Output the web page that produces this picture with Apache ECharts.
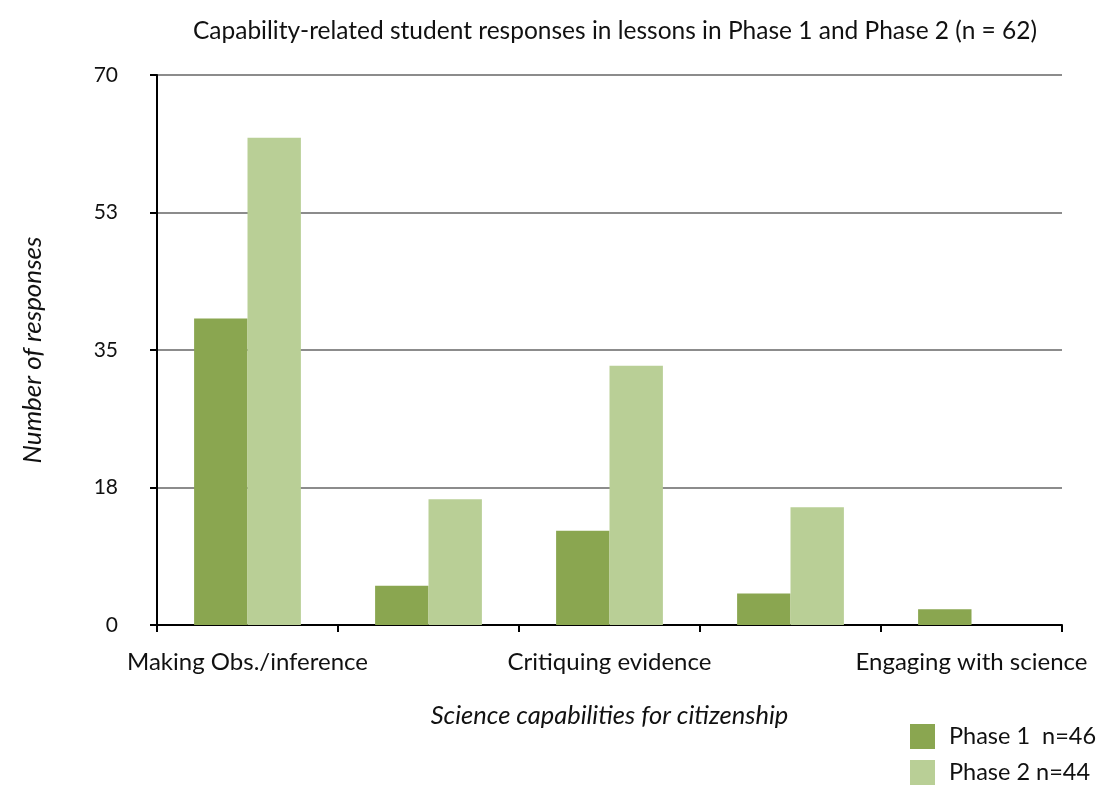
<!DOCTYPE html>
<html>
<head>
<meta charset="utf-8">
<script src="https://cdn.jsdelivr.net/npm/echarts@6/dist/echarts.min.js"></script>
<style>html,body{margin:0;padding:0;background:#fff}#c{width:1100px;height:785px}</style>
</head>
<body>
<div id="c"></div>
<script>
const categories = ["Making Obs./inference", "Using evidence", "Critiquing evidence", "Interpreting representations", "Engaging with science"];
const phase1 = [39, 5, 12, 4, 2];
const phase2 = [62, 16, 33, 15, 0];
const seriesNames = ["Phase 1  n=46", "Phase 2 n=44"];
const yTicks = [0, 17.5, 35, 52.5, 70];

const FONT = 'Lato, "Open Sans", sans-serif';
const legendText = { fontFamily: FONT, fontSize: 23.5, color: '#111', padding: [0, 0, 0, 9] };
const chart = echarts.init(document.getElementById('c'));
chart.setOption({
  animation: false,
  backgroundColor: '#fff',
  title: {
    text: 'Capability-related student responses in lessons in Phase 1 and Phase 2 (n = 62)',
    left: 610, top: 14, textAlign: 'center',
    textStyle: { fontFamily: FONT, fontSize: 24.5, fontWeight: 'normal', color: '#111' }
  },
  legend: [
    { left: 905, top: 719, itemWidth: 25, itemHeight: 25, icon: 'rect',
      textStyle: legendText, data: [seriesNames[0]] },
    { left: 905, top: 755, itemWidth: 25, itemHeight: 25, icon: 'rect',
      textStyle: legendText, data: [seriesNames[1]] }
  ],
  grid: { left: 157, right: 38, top: 75, bottom: 160, containLabel: false },
  xAxis: {
    type: 'category', data: categories,
    name: 'Science capabilities for citizenship', nameLocation: 'middle', nameGap: 78,
    nameTextStyle: { fontFamily: FONT, fontSize: 25.5, fontStyle: 'italic', color: '#111' },
    axisLine: { lineStyle: { color: '#000', width: 2 } },
    axisTick: { show: true, interval: 0, length: 7, lineStyle: { color: '#000', width: 2 } },
    axisLabel: { interval: 1, margin: 25, fontFamily: FONT, fontSize: 24, color: '#111' }
  },
  yAxis: {
    type: 'value', min: 0, max: 70, interval: 17.5,
    name: 'Number of responses', nameLocation: 'middle', nameGap: 111, nameRotate: 90,
    nameTextStyle: { fontFamily: FONT, fontSize: 26, fontStyle: 'italic', color: '#111' },
    axisLine: { show: true, lineStyle: { color: '#000', width: 2 } },
    axisTick: { show: true, length: 7, lineStyle: { color: '#000', width: 2 } },
    axisLabel: { margin: 39, fontFamily: FONT, fontSize: 21, color: '#111',
      formatter: v => String(Math.round(v)) },
    splitLine: { lineStyle: { color: '#8c8c8c', width: 2 } }
  },
  series: [
    { name: seriesNames[0], type: 'bar', data: phase1, barWidth: '29.5%', barGap: '0%',
      itemStyle: { color: '#8aa650' } },
    { name: seriesNames[1], type: 'bar', data: phase2, barWidth: '29.5%', barGap: '0%',
      itemStyle: { color: '#b9cf96' } }
  ]
});
</script>
</body>
</html>
